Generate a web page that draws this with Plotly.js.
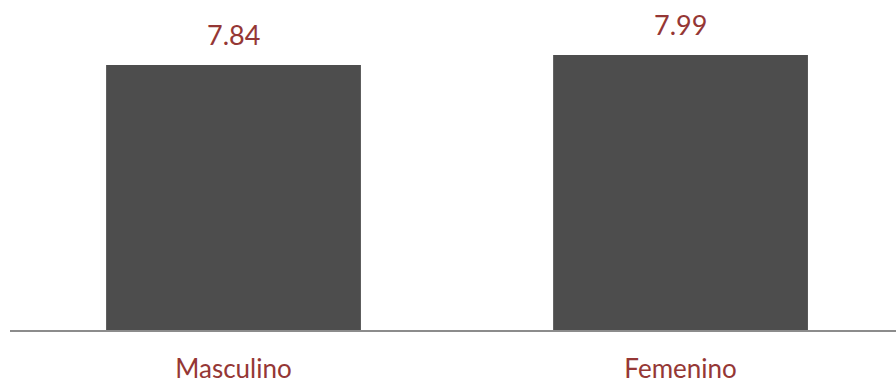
<!DOCTYPE html>
<html>
<head>
<meta charset="utf-8">
<script src="https://cdn.plot.ly/plotly-3.0.1.min.js"></script>
<style>html,body{margin:0;padding:0;background:#fff;}#chart{width:896px;height:385px;}</style>
</head>
<body>
<div id="chart"></div>
<script>
const categories = ["Masculino", "Femenino"];
const values = [7.84, 7.99];
const valueLabels = ["7.84", "7.99"];

const labelColor = "#953735";
const trace = {
  type: "bar",
  x: categories,
  y: values,
  marker: {color: "#4d4d4d"},
  hoverinfo: "none"
};
const annotations = categories.map((c, i) => ({
  x: c, y: values[i], xref: "x", yref: "y",
  text: valueLabels[i], showarrow: false,
  yanchor: "bottom", yshift: 12,
  font: {family: "Lato, sans-serif", size: 27, color: labelColor}
}));
const layout = {
  width: 896, height: 385,
  margin: {l: 10, r: 0, t: 0, b: 54.5},
  paper_bgcolor: "#fff", plot_bgcolor: "#fff",
  showlegend: false,
  bargap: 0.43,
  xaxis: {
    type: "category",
    range: [-0.5, 1.482],
    showline: true, linecolor: "#8c8c8c", linewidth: 2,
    ticks: "", showgrid: false, zeroline: false,
    ticklabelstandoff: 15,
    tickfont: {family: "Lato, sans-serif", size: 26, color: labelColor}
  },
  yaxis: {
    range: [3.858, 8.815],
    visible: false, showgrid: false, zeroline: false
  },
  annotations: annotations
};
Plotly.newPlot("chart", [trace], layout, {displayModeBar: false, staticPlot: true});
</script>
</body>
</html>
